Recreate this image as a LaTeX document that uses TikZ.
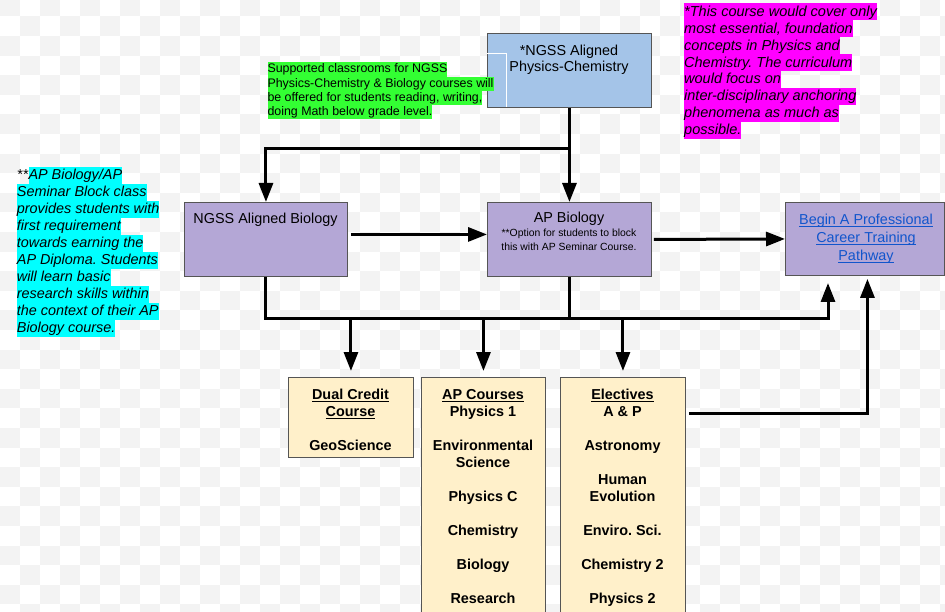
\documentclass[tikz,border=0pt]{standalone}
\usepackage{fontspec}
\setmainfont{Liberation Sans}
\usetikzlibrary{arrows.meta}
\definecolor{pcblue}{HTML}{A4C4E8}
\definecolor{bpurple}{HTML}{B4A7D6}
\definecolor{ctan}{HTML}{FFF0CA}
\definecolor{hlgreen}{HTML}{33FF33}
\definecolor{hlmag}{HTML}{FF00FF}
\definecolor{hlcyan}{HTML}{00FFFF}
\definecolor{linkblue}{HTML}{1155CC}
\definecolor{checker}{HTML}{F3F3F3}
\definecolor{boxline}{HTML}{555555}
\newcommand{\myul}[1]{\setbox0\hbox{#1}\rlap{\rule[-2.6pt]{\wd0}{1pt}}\box0}
\frenchspacing
\begin{document}
\begin{tikzpicture}[x=1pt,y=-1pt,
  box/.style={draw=boxline, line width=0.9pt, rectangle, inner sep=0pt, anchor=north west},
  conn/.style={line width=3pt, draw=black},
  arr/.style={conn, -{Triangle[length=19pt,width=14pt]}},
  hlm/.style={fill=hlmag, inner sep=0pt, anchor=north west, text height=12.9pt, text depth=4pt, font=\fontsize{14.5}{16.9}\selectfont\itshape},
  hlc/.style={fill=hlcyan, inner sep=0pt, anchor=north west, text height=12.6pt, text depth=4.4pt, font=\fontsize{14.4}{17}\selectfont\itshape},
  hlg/.style={fill=hlgreen, inner sep=0pt, anchor=north west, text height=10.4pt, text depth=3.8pt, font=\fontsize{12.4}{14.2}\selectfont},
  boxtext/.style={inner sep=0pt, align=center, font=\fontsize{14.4}{17}\selectfont},
  coursetext/.style={inner sep=0pt, align=center, anchor=north, font=\fontsize{14.4}{17}\selectfont\bfseries}
]
\useasboundingbox (0,0) rectangle (945,612);
\clip (0,0) rectangle (945,612);
\fill[white] (0,0) rectangle (945,612);
\foreach \j in {0,...,31}{
  \pgfmathtruncatemacro{\s}{mod(\j,2)}
  \foreach \k in {0,...,23}{
    \fill[checker] ({(2*\k+\s)*20},{-3.2+19.6*\j}) rectangle +(20,19.6);
  }
}

% boxes
\node[box, fill=pcblue, minimum width=164pt, minimum height=74pt] (pc) at (487,33) {};
\node[box, fill=bpurple, minimum width=163pt, minimum height=74pt] (nb) at (184,202) {};
\node[box, fill=bpurple, minimum width=164pt, minimum height=74pt] (ap) at (487,202) {};
\node[box, fill=bpurple, minimum width=159pt, minimum height=73pt] (bg) at (785,202) {};
\node[box, fill=ctan, minimum width=125pt, minimum height=80pt] (dual) at (288,377) {};
\node[box, fill=ctan, minimum width=124pt, minimum height=260pt] (apc) at (421,377) {};
\node[box, fill=ctan, minimum width=125pt, minimum height=260pt] (el) at (560,377) {};

% white text-box frame lines
\draw[white, line width=0.8pt] (487,53) -- (506,53) -- (506,107);

% box texts
\node[boxtext, anchor=north, font=\fontsize{14.4}{16}\selectfont] (pct) at (569,43.8) {\strut*NGSS Aligned\\Physics-Chemistry};
\node[boxtext, anchor=base] (nbt) at (265.5,224) {NGSS Aligned Biology};
\node[boxtext, anchor=base] (apt) at (569,223) {AP Biology};
\node[boxtext, anchor=north, font=\fontsize{10.4}{14}\selectfont] (aps) at (569,226.7) {\strut**Option for students to block\\this with AP Seminar Course.};
\node[boxtext, anchor=north, font=\fontsize{14.4}{18}\selectfont, text=linkblue] (bgt) at (866,211.4) {\strut\myul{Begin A Professional}\\\myul{Career Training}\\\myul{Pathway}};
\node[coursetext] (dualt) at (350.5,387.1) {\strut\myul{Dual Credit}\\\myul{Course}\\[17pt]GeoScience};
\node[coursetext] (apct) at (483,387.1) {\strut\myul{AP Courses}\\Physics 1\\[17pt]Environmental\\Science\\[17pt]Physics C\\[17pt]Chemistry\\[17pt]Biology\\[17pt]Research};
\node[coursetext] (elt) at (622.5,387.1) {\strut\myul{Electives}\\A \& P\\[17pt]Astronomy\\[17pt]Human\\Evolution\\[17pt]Enviro. Sci.\\[17pt]Chemistry 2\\[17pt]Physics 2};

% green note
\node[hlg] (g1) at (267.3,62.3) {Supported classrooms for NGSS};
\node[hlg] (g2) at (267.3,76.5) {Physics-Chemistry \& Biology courses will};
\node[hlg] (g3) at (267.3,90.7) {be offered for students reading, writing,};
\node[hlg] (g4) at (267.3,104.9) {doing Math below grade level.};

% magenta note
\node[hlm] (m1) at (684,3.3) {*This course would cover only};
\node[hlm] (m2) at (684,20.2) {most essential, foundation};
\node[hlm] (m3) at (684,37.1) {concepts in Physics and};
\node[hlm] (m4) at (684,54.0) {Chemistry. The curriculum};
\node[hlm] (m5) at (684,70.9) {would focus on};
\node[hlm] (m6) at (684,87.8) {inter-disciplinary anchoring};
\node[hlm] (m7) at (684,104.7) {phenomena as much as};
\node[hlm] (m8) at (684,121.6) {possible.};

% cyan note
\node[hlc, fill=none] (c0) at (16.7,166.7) {**};
\node[hlc] (c1) at (c0.north east) {AP Biology/AP};
\node[hlc] (c2) at (16.7,183.7) {Seminar Block class};
\node[hlc] (c3) at (16.7,200.7) {provides students with};
\node[hlc] (c4) at (16.7,217.7) {first requirement};
\node[hlc] (c5) at (16.7,234.7) {towards earning the};
\node[hlc] (c6) at (16.7,251.7) {AP Diploma. Students};
\node[hlc] (c7) at (16.7,268.7) {will learn basic};
\node[hlc] (c8) at (16.7,285.7) {research skills within};
\node[hlc] (c9) at (16.7,302.7) {the context of their AP};
\node[hlc] (c10) at (16.7,319.7) {Biology course.};

% connectors
\coordinate (jt) at (569,149);
\coordinate (jc) at (569,319);
\coordinate (ja) at (828,319);
\coordinate (ta) at (828,283);
\draw[arr] (pc.south) -- (ap.north);
\draw[arr] (jt) -| (nb.north);
\draw[arr] ([shift={(3pt,5pt)}]nb.east) -- ([yshift=5pt]ap.west);
\draw[arr] ([xshift=2pt]ap.east) -- (bg.west);
\draw[conn] (nb.south) |- (jc);
\draw[arr] (ap.south) |- (ja) -- (ta);
\draw[arr] (dual.north |- jc) -- ([yshift=6pt]dual.north);
\draw[arr] (apc.north |- jc) -- ([yshift=6pt]apc.north);
\draw[arr] (el.north |- jc) -- ([yshift=6pt]el.north);
\coordinate (eo) at ([shift={(3pt,-36pt)}]el.north east);
\draw[arr] (eo) -| ([xshift=2.5pt,yshift=-3pt]bg.south);
\end{tikzpicture}
\end{document}
